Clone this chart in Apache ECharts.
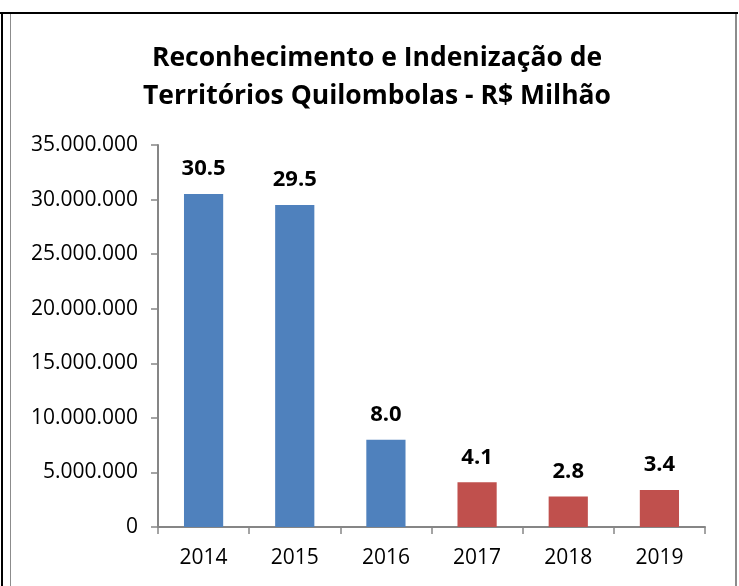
<!DOCTYPE html>
<html><head><meta charset="utf-8">
<script src="https://cdn.jsdelivr.net/npm/echarts@6/dist/echarts.min.js"></script>
<style>
html,body{margin:0;padding:0;background:#fff;}
#chart{position:absolute;left:0;top:0;width:739px;height:586px;}
.l{position:absolute;}
</style></head>
<body>
<div class="l" style="left:0;top:12px;width:738px;height:2px;background:#000"></div>
<div class="l" style="left:1px;top:12px;width:2px;height:574px;background:#000"></div>
<div class="l" style="left:10px;top:14px;width:1px;height:572px;background:#8c8c8c"></div>
<div class="l" style="left:735px;top:14px;width:2px;height:572px;background:#8c8c8c"></div>
<div id="chart"></div>
<script>
var categories = ['2014','2015','2016','2017','2018','2019'];
var values = [30500000, 29500000, 8000000, 4100000, 2800000, 3400000];
var labels = ['30.5','29.5','8.0','4.1','2.8','3.4'];
var colors = ['#4F81BD','#4F81BD','#4F81BD','#C0504D','#C0504D','#C0504D'];
var titleText = 'Reconhecimento e Indenização de\nTerritórios Quilombolas - R$ Milhão';

var font = '"Open Sans", sans-serif';
var chart = echarts.init(document.getElementById('chart'), null, {renderer:'canvas'});
chart.setOption({
  animation:false,
  backgroundColor:'transparent',
  title:{text:titleText,left:372,textAlign:'center',top:34,
    textStyle:{fontFamily:font,fontSize:26.5,fontWeight:'bold',color:'#000',lineHeight:38}},
  grid:{left:158,right:34,top:145,bottom:59,containLabel:false},
  xAxis:{type:'category',data:categories,
    axisLine:{lineStyle:{color:'#868686',width:2}},
    axisTick:{show:true,alignWithLabel:false,length:7,lineStyle:{color:'#868686',width:1.5}},
    axisLabel:{fontFamily:font,fontSize:21,color:'#000',margin:21}},
  yAxis:{type:'value',min:0,max:35000000,interval:5000000,
    axisLine:{show:true,lineStyle:{color:'#868686',width:2}},
    axisTick:{show:true,length:7,lineStyle:{color:'#868686',width:1.5}},
    splitLine:{show:false},
    axisLabel:{fontFamily:font,fontSize:21,color:'#000',margin:20,
      formatter:function(v){return v.toString().replace(/\B(?=(\d{3})+(?!\d))/g,'.');}}},
  series:[{type:'bar',barWidth:'43%',
    data:values.map(function(v,i){return {value:v,itemStyle:{color:colors[i]}};}),
    label:{show:true,position:'top',distance:14,fontFamily:font,fontSize:22,fontWeight:'bold',color:'#000',
      formatter:function(p){return labels[p.dataIndex];}}}]
});
</script>
</body></html>
